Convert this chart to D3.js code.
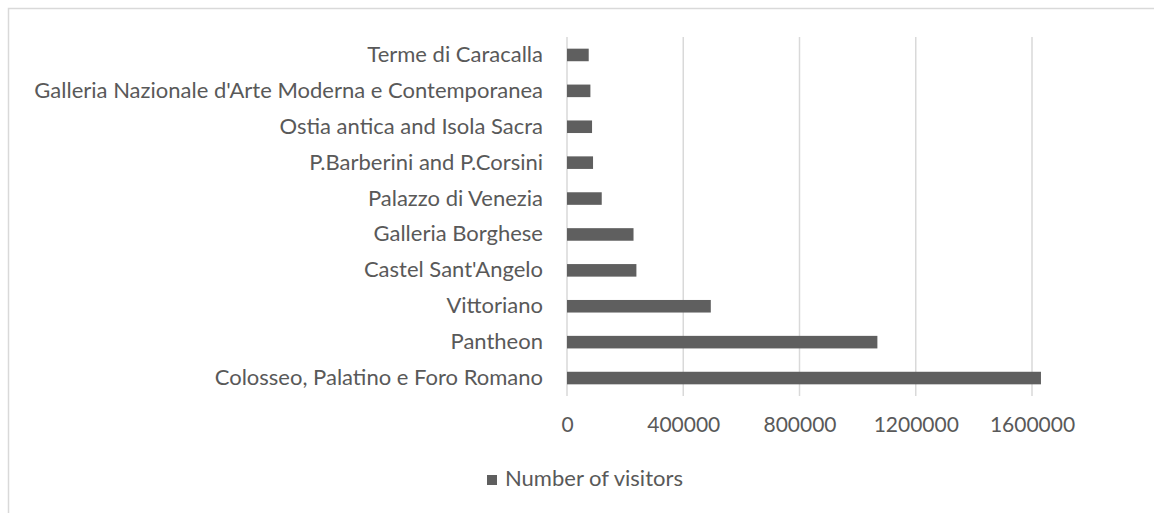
<html lang="en">
<head>
    <meta charset="UTF-8">
    <title>Number of visitors</title>
    <script src="https://d3js.org/d3.v7.min.js"></script>
    <style>
        body { margin: 0; background: #fff; }
        text { font-family: Lato, "Open Sans", sans-serif; fill: #595959; }
    </style>
</head>
<body>
<div id="chart"></div>
<script>
    // data (top to bottom)
    var sites = ["Terme di Caracalla", "Galleria Nazionale d'Arte Moderna e Contemporanea",
        "Ostia antica and Isola Sacra", "P.Barberini and P.Corsini", "Palazzo di Venezia",
        "Galleria Borghese", "Castel Sant'Angelo", "Vittoriano", "Pantheon",
        "Colosseo, Palatino e Foro Romano"];
    var visitors = [74700, 80500, 86200, 89600, 119500, 228900, 238800, 494800, 1068000, 1630800];
    var xTicks = [0, 400000, 800000, 1200000, 1600000];
    var seriesName = "Number of visitors";

    var W = 1154, H = 513;
    var margin = {top: 37, left: 567, plotW: 465, plotH: 359};

    var svg = d3.select("#chart").append("svg")
        .attr("width", W).attr("height", H);

    // chart frame
    svg.append("rect")
        .attr("x", 8.5).attr("y", 8.5)
        .attr("width", W + 20).attr("height", H + 20)
        .attr("fill", "none").attr("stroke", "#d9d9d9").attr("stroke-width", 1.5);

    var x = d3.scaleLinear().domain([0, 1600000]).range([0, margin.plotW]);
    var y = d3.scaleBand().domain(sites).range([0, margin.plotH]).paddingInner(0.65).paddingOuter(0.325);

    var g = svg.append("g")
        .attr("transform", "translate(" + margin.left + "," + margin.top + ")");

    // vertical gridlines
    g.selectAll(".grid").data(xTicks).enter().append("line")
        .attr("x1", function (d) { return x(d); })
        .attr("x2", function (d) { return x(d); })
        .attr("y1", 0).attr("y2", margin.plotH)
        .attr("stroke", "#d9d9d9").attr("stroke-width", 1.5);

    // bars
    g.selectAll(".bar").data(visitors).enter().append("rect")
        .attr("x", 0)
        .attr("y", function (d, i) { return y(sites[i]); })
        .attr("width", function (d) { return x(d); })
        .attr("height", y.bandwidth())
        .attr("fill", "#5f5f5f");

    // x axis labels
    var xAxis = g.append("g")
        .attr("transform", "translate(0," + margin.plotH + ")")
        .call(d3.axisBottom(x).tickValues(xTicks).tickFormat(d3.format("d")).tickSize(0).tickPadding(21));
    xAxis.select(".domain").remove();
    xAxis.selectAll("text").style("font-size", "21px").style("font-family", null);

    // y axis labels
    var yAxis = g.append("g")
        .call(d3.axisLeft(y).tickSize(0).tickPadding(24));
    yAxis.select(".domain").remove();
    yAxis.selectAll("text").style("font-size", "22px").style("font-family", null);

    // legend
    var leg = svg.append("g").attr("transform", "translate(487,475)");
    leg.append("rect").attr("width", 10).attr("height", 10).attr("fill", "#5f5f5f");
    leg.append("text").attr("x", 18).attr("y", 11).style("font-size", "22px").text(seriesName);
</script>
</body>
</html>
